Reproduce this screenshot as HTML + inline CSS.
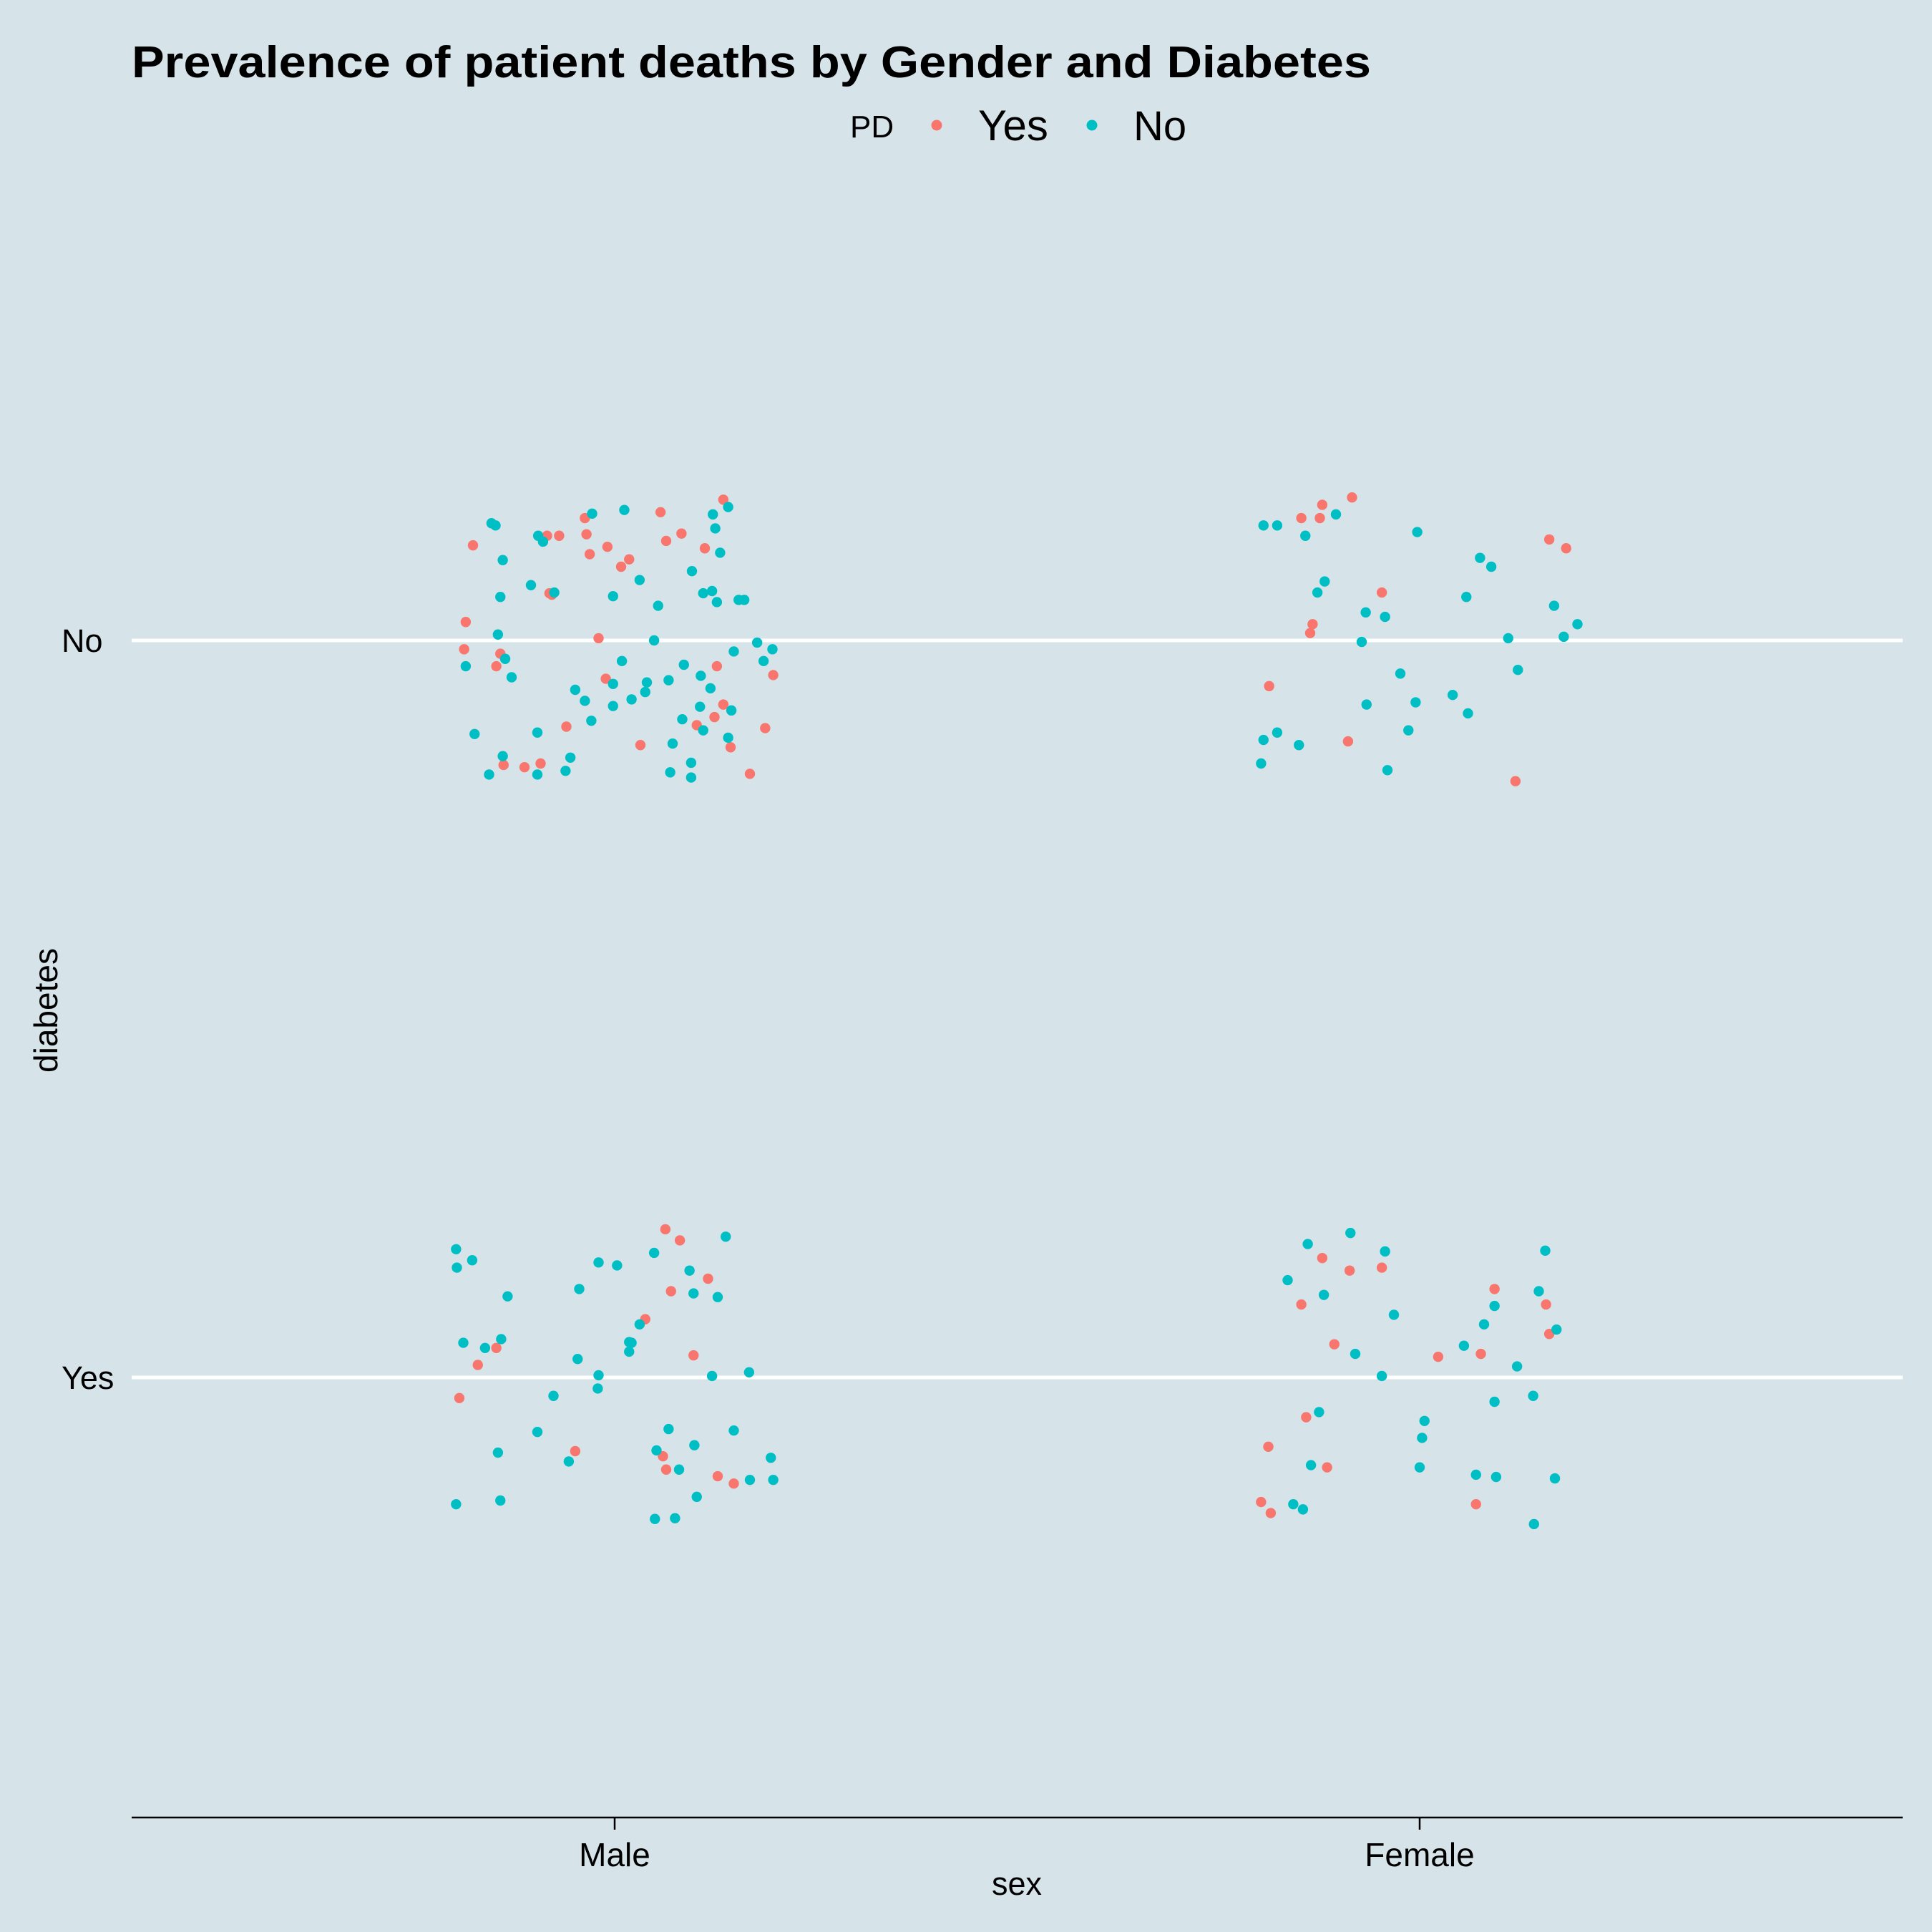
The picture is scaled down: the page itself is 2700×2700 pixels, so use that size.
<!DOCTYPE html>
<html><head><meta charset="utf-8"><style>html,body{margin:0;padding:0;background:#D6E4EA;}svg{display:block;}</style></head>
<body>
<svg id="chart" width="2700" height="2700" viewBox="0 0 2700 2700" xmlns="http://www.w3.org/2000/svg" font-family="'Liberation Sans', Arial, sans-serif">
<rect width="2700" height="2700" fill="#D6E4EA"/>
<text x="184" y="108" font-size="62" font-weight="bold" textLength="1732" lengthAdjust="spacingAndGlyphs" fill="#000">Prevalence of patient deaths by Gender and Diabetes</text>
<g>
<text x="1188" y="192" font-size="44" fill="#000">PD</text>
<g><circle cx="1309" cy="175" r="7.5" fill="#F8766D"/><text x="1367" y="196" font-size="60" fill="#000">Yes</text></g>
<g><circle cx="1526" cy="175" r="7.5" fill="#00BFC4"/><text x="1584" y="196" font-size="58" fill="#000">No</text></g>
</g>
<g id="grid"></g>
<g id="points"></g>
<g id="axes"></g>
</svg>
<script>
const sexCategories = ['Male','Female'];
const diabetesCategories = ['Yes','No'];
const pdCategories = ['Yes','No'];
// jitter offsets (data units) for each group
const maleNoPdYesX = [-0.176,-0.185,-0.187,-0.142,-0.147,-0.078,-0.084,-0.069,-0.037,-0.035,-0.031,-0.009,0.008,0.018,-0.020,-0.011,0.057,0.064,0.083,0.112,0.135,0.127,0.135,0.124,0.102,0.144,0.197,0.187,0.168,0.032,-0.060,-0.092,-0.112,-0.138,-0.081];
const maleNoPdYesY = [0.129,0.025,-0.012,-0.018,-0.035,0.062,0.142,0.142,0.166,0.144,0.117,0.127,0.100,0.110,0.003,-0.052,0.174,0.135,0.145,0.125,0.191,-0.035,-0.087,-0.104,-0.115,-0.145,-0.047,-0.119,-0.181,-0.142,-0.117,-0.167,-0.172,-0.169,0.064];
const maleNoPdNoX = [-0.153,-0.148,-0.139,-0.142,-0.145,-0.185,-0.136,-0.128,-0.174,-0.156,-0.139,-0.096,-0.096,-0.061,-0.055,-0.104,-0.095,-0.089,-0.075,-0.028,0.012,-0.002,0.031,0.054,0.049,0.009,-0.049,-0.037,-0.029,-0.002,-0.002,0.021,0.040,0.038,0.067,0.086,0.084,0.106,0.107,0.119,0.096,0.110,0.121,0.127,0.131,0.125,0.122,0.141,0.154,0.161,0.148,0.177,0.196,0.185,0.145,0.141,0.110,0.072,0.069,0.095,0.095];
const maleNoPdNoY = [0.159,0.156,0.109,0.059,0.008,-0.035,-0.025,-0.050,-0.127,-0.182,-0.157,-0.182,-0.125,-0.177,-0.159,0.075,0.142,0.134,0.065,0.172,0.177,0.060,0.082,0.047,0.000,-0.028,-0.067,-0.082,-0.109,-0.089,-0.059,-0.080,-0.057,-0.070,-0.054,-0.033,-0.107,-0.090,-0.048,-0.065,0.094,0.064,0.067,0.052,0.119,0.152,0.171,0.181,0.055,0.055,-0.015,-0.003,-0.012,-0.028,-0.095,-0.132,-0.122,-0.140,-0.179,-0.166,-0.186];
const femaleNoPdYesX = [-0.147,-0.124,-0.121,-0.084,-0.047,-0.133,-0.136,-0.187,-0.089,0.119,0.161,0.182];
const femaleNoPdYesY = [0.166,0.166,0.184,0.194,0.065,0.022,0.010,-0.062,-0.137,-0.191,0.137,0.125];
const femaleNoPdNoX = [-0.194,-0.177,-0.142,-0.104,-0.118,-0.127,-0.067,-0.043,-0.072,-0.003,0.075,0.089,0.058,0.110,0.122,0.167,0.196,0.179,-0.024,-0.005,-0.066,-0.014,0.041,0.060,-0.040,-0.194,-0.177,-0.150,-0.197];
const femaleNoPdNoY = [0.156,0.156,0.142,0.171,0.080,0.065,0.038,0.032,-0.002,0.147,0.112,0.100,0.059,0.003,-0.040,0.047,0.022,0.005,-0.045,-0.084,-0.087,-0.122,-0.074,-0.099,-0.176,-0.135,-0.125,-0.142,-0.167];
const maleYesPdYesX = [0.063,0.081,0.070,0.116,0.038,0.098,-0.147,-0.170,-0.193,-0.049,0.060,0.064,0.128,0.148];
const maleYesPdYesY = [0.201,0.186,0.117,0.134,0.079,0.030,0.040,0.017,-0.028,-0.100,-0.107,-0.125,-0.134,-0.144];
const maleYesPdNoX = [-0.197,-0.196,-0.177,-0.133,-0.188,-0.161,-0.141,-0.044,-0.020,0.003,0.049,0.093,0.098,0.128,0.138,0.031,0.018,0.021,0.018,-0.046,-0.020,-0.021,-0.076,-0.096,-0.145,-0.197,-0.142,-0.057,0.067,0.052,0.080,0.099,0.148,0.121,0.167,0.194,0.197,0.168,0.102,0.050,0.075];
const maleYesPdNoY = [0.174,0.149,0.159,0.110,0.047,0.040,0.052,0.120,0.156,0.152,0.169,0.145,0.114,0.109,0.191,0.072,0.048,0.047,0.035,0.025,0.003,-0.015,-0.025,-0.074,-0.102,-0.172,-0.167,-0.114,-0.070,-0.099,-0.125,-0.092,-0.072,0.002,0.007,-0.109,-0.139,-0.139,-0.162,-0.192,-0.191];
const femaleYesPdYesX = [-0.121,-0.087,-0.047,-0.147,-0.106,0.093,0.157,0.161,0.023,0.076,-0.188,-0.141,-0.115,-0.197,-0.185,0.070];
const femaleYesPdYesY = [0.162,0.145,0.149,0.099,0.045,0.120,0.099,0.059,0.028,0.032,-0.094,-0.054,-0.122,-0.169,-0.184,-0.172];
const femaleYesPdNoX = [-0.139,-0.086,-0.043,-0.164,-0.119,-0.032,-0.080,-0.047,0.055,0.080,0.093,0.148,0.156,0.170,0.121,0.093,0.141,0.006,0.003,0.000,-0.125,-0.135,-0.157,-0.145,0.070,0.095,0.168,0.142];
const femaleYesPdNoY = [0.181,0.196,0.171,0.132,0.112,0.085,0.032,0.002,0.043,0.072,0.097,0.117,0.172,0.065,0.015,-0.033,-0.025,-0.059,-0.082,-0.122,-0.047,-0.119,-0.172,-0.179,-0.132,-0.135,-0.137,-0.199];

const NS='http://www.w3.org/2000/svg';
const L=184, R=2659, T=277, B=2543;
const xMin=0.4, xMax=2.6, yMin=0.4, yMax=2.6;
function xScale(v){return L+(v-xMin)/(xMax-xMin)*(R-L);}
function yScale(v){return B-(v-yMin)/(yMax-yMin)*(B-T);}
const colors={Yes:'#F8766D',No:'#00BFC4'};

const grid=document.getElementById('grid');
diabetesCategories.forEach((d,i)=>{
  const ln=document.createElementNS(NS,'line');
  ln.setAttribute('x1',L);ln.setAttribute('x2',R);
  ln.setAttribute('y1',yScale(i+1));ln.setAttribute('y2',yScale(i+1));
  ln.setAttribute('stroke','#fff');ln.setAttribute('stroke-width','5');
  
  
  grid.appendChild(ln);
});

const groups=[
 ['Male','No','Yes',maleNoPdYesX,maleNoPdYesY],
 ['Male','No','No',maleNoPdNoX,maleNoPdNoY],
 ['Female','No','Yes',femaleNoPdYesX,femaleNoPdYesY],
 ['Female','No','No',femaleNoPdNoX,femaleNoPdNoY],
 ['Male','Yes','Yes',maleYesPdYesX,maleYesPdYesY],
 ['Male','Yes','No',maleYesPdNoX,maleYesPdNoY],
 ['Female','Yes','Yes',femaleYesPdYesX,femaleYesPdYesY],
 ['Female','Yes','No',femaleYesPdNoX,femaleYesPdNoY]
];
const pts=document.getElementById('points');
groups.forEach(g=>{
  const cx=sexCategories.indexOf(g[0])+1, cy=diabetesCategories.indexOf(g[1])+1;
  g[3].forEach((jx,i)=>{
    const c=document.createElementNS(NS,'circle');
    c.setAttribute('cx',xScale(cx+jx));
    c.setAttribute('cy',yScale(cy+g[4][i]));
    c.setAttribute('r','7.2');
    c.setAttribute('fill',colors[g[2]]);
    
    
    pts.appendChild(c);
  });
});

const ax=document.getElementById('axes');
function add(tag,attrs,text){const e=document.createElementNS(NS,tag);for(const k in attrs)e.setAttribute(k,attrs[k]);if(text)e.textContent=text;ax.appendChild(e);return e;}
const axisLine=add('line',{x1:L,x2:R,y1:2540,y2:2540,stroke:'#000','stroke-width':2.5});


sexCategories.forEach((s,i)=>{
  const tk=add('line',{x1:xScale(i+1),x2:xScale(i+1),y1:2540,y2:2557,stroke:'#000','stroke-width':2.5});
  
  
  const t=add('text',{x:xScale(i+1),y:2608,'font-size':46,'text-anchor':'middle',fill:'#000'},s);
  
  
});
diabetesCategories.forEach((d,i)=>{
  const t=add('text',{x:86,y:yScale(i+1)+16,'font-size':45,fill:'#000'},d);
  
  
});
const xt=add('text',{x:1421,y:2648,'font-size':45,'text-anchor':'middle',fill:'#000'},'sex');


const yt=add('text',{x:0,y:0,'font-size':46,'text-anchor':'middle',fill:'#000',transform:'translate(80,1412) rotate(-90)'},'diabetes');


</script>
</body></html>
